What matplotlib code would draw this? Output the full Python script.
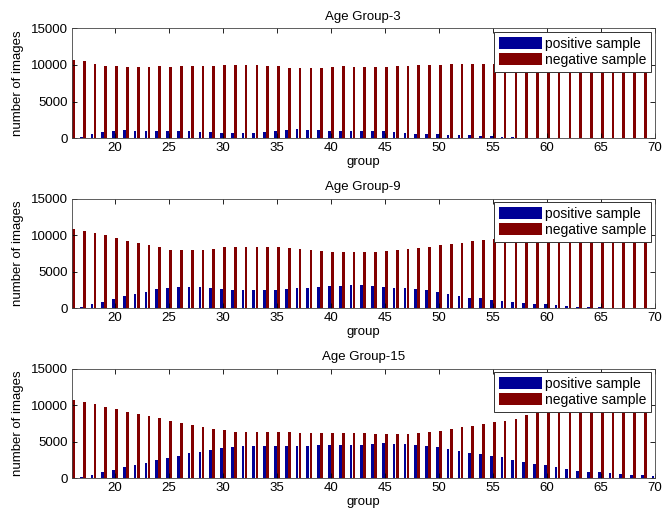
import matplotlib
matplotlib.use('Agg')
import matplotlib.pyplot as plt
import numpy as np

plt.rcParams['font.family'] = ['Liberation Sans', 'DejaVu Sans']
plt.rcParams['font.size'] = 9.5

groups = list(range(16, 71))

titles = ['Age Group-3', 'Age Group-9', 'Age Group-15']

# age group 3
pos_3 = [0, 150, 500, 800, 950, 1050, 1000, 1000, 950, 900,
         900, 900, 850, 800, 750, 650, 700, 750, 850, 950,
         1100, 1200, 1150, 1100, 1000, 950, 950, 1000, 1000, 950,
         800, 700, 600, 550, 500, 450, 400, 350, 300, 250,
         150, 100, 50, 40, 30, 20, 15, 10, 10, 10,
         5, 5, 5, 5, 5]
neg_3 = [10700, 10500, 10200, 9900, 9800, 9700, 9750, 9750, 9800, 9750,
         9850, 9850, 9900, 9900, 10000, 10050, 10000, 10000, 9900, 9850,
         9650, 9550, 9550, 9650, 9750, 9800, 9750, 9700, 9700, 9750,
         9800, 9850, 9950, 10000, 10050, 10100, 10100, 10150, 10150, 10200,
         10200, 10250, 10250, 10300, 10300, 10350, 10350, 10400, 10400, 10450,
         10450, 10500, 10500, 10550, 10550]

# age group 9
pos_9 = [0, 150, 500, 800, 1250, 1600, 1900, 2200, 2600, 2800,
         2900, 2950, 2850, 2700, 2600, 2500, 2450, 2450, 2450, 2500,
         2600, 2700, 2800, 2900, 3000, 3050, 3100, 3100, 3050, 2900,
         2800, 2700, 2600, 2450, 2200, 1950, 1700, 1450, 1350, 1100,
         1000, 900, 770, 600, 550, 450, 250, 180, 140, 100,
         70, 50, 35, 25, 15]
neg_9 = [10800, 10550, 10300, 9950, 9650, 9250, 8900, 8600, 8300, 7950,
         7900, 7900, 8000, 8150, 8300, 8300, 8350, 8400, 8400, 8300,
         8200, 8100, 7900, 7800, 7700, 7700, 7650, 7650, 7700, 7800,
         7950, 8050, 8250, 8400, 8600, 8750, 8950, 9180, 9280, 9500,
         9700, 9900, 10000, 10100, 10200, 10300, 10400, 10500, 10550, 10600,
         10650, 10700, 10750, 10800, 10800]

# age group 15
pos_15 = [0, 150, 500, 850, 1150, 1500, 1800, 2150, 2450, 2800,
          3100, 3400, 3650, 3900, 4100, 4300, 4350, 4350, 4350, 4350,
          4350, 4400, 4450, 4500, 4480, 4500, 4550, 4600, 4650, 4800,
          4700, 4650, 4550, 4450, 4300, 4000, 3750, 3450, 3300, 3000,
          2900, 2500, 2250, 1950, 1750, 1500, 1300, 1050, 920, 820,
          730, 550, 420, 400, 330]
neg_15 = [10700, 10500, 10200, 9800, 9500, 9100, 8800, 8500, 8200, 7800,
          7600, 7300, 7000, 6800, 6600, 6350, 6300, 6300, 6300, 6300,
          6300, 6250, 6200, 6200, 6200, 6200, 6200, 6150, 6050, 6000,
          6050, 6050, 6150, 6300, 6420, 6740, 6970, 7200, 7480, 7660,
          7890, 8160, 8700, 9000, 9200, 9400, 9600, 9800, 9900, 10000,
          10100, 10200, 10300, 10400, 10500]

pos_all = [pos_3, pos_9, pos_15]
neg_all = [neg_3, neg_9, neg_15]

blue = '#000096'
red = '#820000'

fig = plt.figure(figsize=(6.66, 5.17), dpi=100)
bottoms = [0.733, 0.404, 0.075]
x = np.array(groups)
off = 0.143
w = 0.25

for i in range(3):
    ax = fig.add_axes([0.108, bottoms[i], 0.875, 0.212])
    ax.bar(x - off, pos_all[i], width=w, color=blue, label='positive sample')
    ax.bar(x + off, neg_all[i], width=w, color=red, label='negative sample')
    ax.set_xlim(16, 70)
    ax.set_ylim(0, 15000)
    ax.set_xticks(range(20, 71, 5))
    ax.set_yticks([0, 5000, 10000, 15000])
    ax.tick_params(direction='in', top=True, right=True, length=3.5, width=0.6, pad=3)
    for s in ax.spines.values():
        s.set_linewidth(0.6)
        s.set_color('#444444')
    ax.set_title(titles[i], fontsize=9.5, pad=6)
    ax.set_xlabel('group', labelpad=1)
    ax.set_ylabel('number of images', labelpad=5)
    leg = ax.legend(loc='upper right', fancybox=False, framealpha=1,
                    edgecolor='#333333', borderaxespad=0.25,
                    handlelength=3.1, handleheight=1.0, handletextpad=0.2,
                    borderpad=0.35, labelspacing=0.15, fontsize=10)
    leg.get_frame().set_linewidth(0.7)

fig.savefig('out.png', dpi=100)
